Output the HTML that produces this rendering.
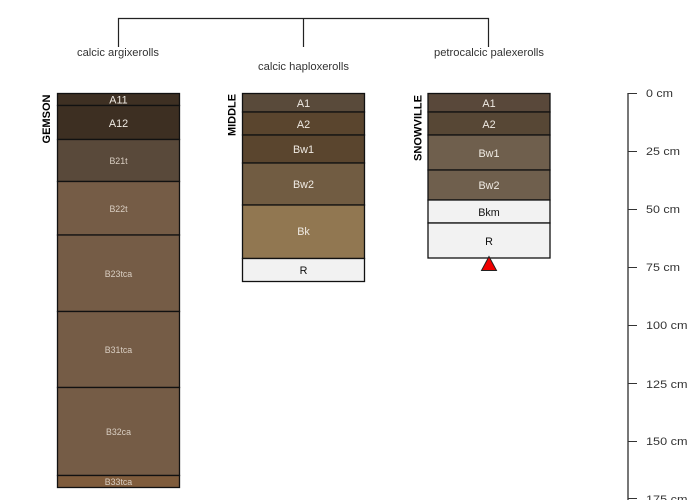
<!DOCTYPE html>
<html><head><meta charset="utf-8"><style>
html,body{margin:0;padding:0;background:#fff}
svg{display:block}
text{font-family:"Liberation Sans",sans-serif;text-anchor:middle}
.l{font-size:10.8px;fill:#333}
.h{font-size:10.8px;fill:#f0ebe4}
.s{font-size:8.8px;fill:#d9cec2}
.d{font-size:10.8px;fill:#111}
.n{font-size:10.6px;font-weight:bold;fill:#000}
.a{font-size:11px;fill:#333;text-anchor:start}
rect{stroke:#111;stroke-width:1.3}
</style></head><body>
<svg width="700" height="500" viewBox="0 0 700 500" xmlns="http://www.w3.org/2000/svg">
<path d="M118.500 47V18.500H488.500V47M303.500 18.500V47" fill="none" stroke="#222" stroke-width="1.200"/>
<text class="l" x="118" y="56" textLength="82" lengthAdjust="spacingAndGlyphs">calcic argixerolls</text>
<text class="l" x="303.500" y="70" textLength="91" lengthAdjust="spacingAndGlyphs">calcic haploxerolls</text>
<text class="l" x="489" y="56" textLength="110" lengthAdjust="spacingAndGlyphs">petrocalcic palexerolls</text>

<rect x="57.500" y="93.500" width="122" height="12" fill="#3e3023"/>
<rect x="57.500" y="105.500" width="122" height="34" fill="#3d2f22"/>
<rect x="57.500" y="139.500" width="122" height="42" fill="#59493a"/>
<rect x="57.500" y="181.500" width="122" height="53.500" fill="#755c46"/>
<rect x="57.500" y="235" width="122" height="76.500" fill="#755c46"/>
<rect x="57.500" y="311.500" width="122" height="76" fill="#755c46"/>
<rect x="57.500" y="387.500" width="122" height="88" fill="#755c46"/>
<rect x="57.500" y="475.500" width="122" height="12" fill="#7f5c3c"/>
<text class="h" x="118.500" y="103.500">A11</text>
<text class="h" x="118.500" y="127">A12</text>
<text class="s" x="118.500" y="164">B21t</text>
<text class="s" x="118.500" y="212">B22t</text>
<text class="s" x="118.500" y="277">B23tca</text>
<text class="s" x="118.500" y="353">B31tca</text>
<text class="s" x="118.500" y="435">B32ca</text>
<text class="s" x="118.500" y="485">B33tca</text>
<text class="n" transform="translate(50,119) rotate(-90)" x="0" y="0" textLength="49" lengthAdjust="spacingAndGlyphs">GEMSON</text>

<rect x="242.500" y="93.500" width="122" height="18.500" fill="#594a3a"/>
<rect x="242.500" y="112" width="122" height="23" fill="#5a452e"/>
<rect x="242.500" y="135" width="122" height="28" fill="#5a452e"/>
<rect x="242.500" y="163" width="122" height="42" fill="#715c42"/>
<rect x="242.500" y="205" width="122" height="53.500" fill="#917751"/>
<rect x="242.500" y="258.500" width="122" height="23" fill="#f2f2f2"/>
<text class="h" x="303.500" y="107">A1</text>
<text class="h" x="303.500" y="128">A2</text>
<text class="h" x="303.500" y="153">Bw1</text>
<text class="h" x="303.500" y="188">Bw2</text>
<text class="h" x="303.500" y="235">Bk</text>
<text class="d" x="303.500" y="274">R</text>
<text class="n" transform="translate(235.500,115) rotate(-90)" x="0" y="0" textLength="42" lengthAdjust="spacingAndGlyphs">MIDDLE</text>

<rect x="428" y="93.500" width="122" height="18.500" fill="#59483a"/>
<rect x="428" y="112" width="122" height="23" fill="#574735"/>
<rect x="428" y="135" width="122" height="35" fill="#6f5f4d"/>
<rect x="428" y="170" width="122" height="30" fill="#6f5f4d"/>
<rect x="428" y="200" width="122" height="23" fill="#f2f2f2"/>
<rect x="428" y="223" width="122" height="35" fill="#f2f2f2"/>
<text class="h" x="489" y="107">A1</text>
<text class="h" x="489" y="128">A2</text>
<text class="h" x="489" y="157">Bw1</text>
<text class="h" x="489" y="189">Bw2</text>
<text class="d" x="489" y="216">Bkm</text>
<text class="d" x="489" y="245">R</text>
<text class="n" transform="translate(421.500,128) rotate(-90)" x="0" y="0" textLength="66" lengthAdjust="spacingAndGlyphs">SNOWVILLE</text>
<path d="M489 256.500L481.500 270.500H496.500Z" fill="#f00000" stroke="#222" stroke-width="1"/>

<path d="M628 93V500" fill="none" stroke="#777" stroke-width="2"/>
<path d="M628 93.500H637M628 151.500H637M628 209.500H637M628 267.500H637M628 325.500H637M628 383.500H637M628 441.500H637M628 498.500H637" fill="none" stroke="#333" stroke-width="1"/>
<text class="a" x="646" y="97" textLength="27" lengthAdjust="spacingAndGlyphs">0 cm</text>
<text class="a" x="646" y="155" textLength="34" lengthAdjust="spacingAndGlyphs">25 cm</text>
<text class="a" x="646" y="213" textLength="34" lengthAdjust="spacingAndGlyphs">50 cm</text>
<text class="a" x="646" y="271" textLength="34" lengthAdjust="spacingAndGlyphs">75 cm</text>
<text class="a" x="646" y="329" textLength="41.500" lengthAdjust="spacingAndGlyphs">100 cm</text>
<text class="a" x="646" y="388" textLength="41.500" lengthAdjust="spacingAndGlyphs">125 cm</text>
<text class="a" x="646" y="445" textLength="41.500" lengthAdjust="spacingAndGlyphs">150 cm</text>
<text class="a" x="646" y="503" textLength="41.500" lengthAdjust="spacingAndGlyphs">175 cm</text>
</svg>
</body></html>
